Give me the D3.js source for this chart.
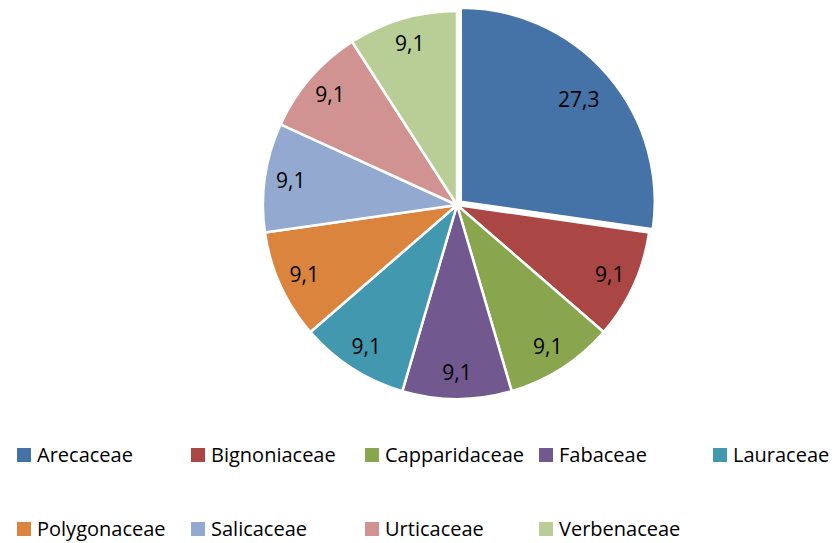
<!DOCTYPE html>
<html>
<head>
<meta charset="utf-8">
<script src="https://cdn.jsdelivr.net/npm/d3@7"></script>
<style>
  body { margin: 0; background: #fff; }
  svg text { font-family: "Open Sans", Carlito, Calibri, sans-serif; fill: #000; }
</style>
</head>
<body>
<div id="vis"></div>
<script>
const width = 834;
const height = 543;

const families = ['Arecaceae', 'Bignoniaceae', 'Capparidaceae', 'Fabaceae', 'Lauraceae',
    'Polygonaceae', 'Salicaceae', 'Urticaceae', 'Verbenaceae'];
const shares = [27.3, 9.1, 9.1, 9.1, 9.1, 9.1, 9.1, 9.1, 9.1];
const labels = ['27,3', '9,1', '9,1', '9,1', '9,1', '9,1', '9,1', '9,1', '9,1'];
const colors = ['#4572A7', '#AA4643', '#89A54E', '#71588F', '#4198AF',
    '#DB843D', '#93A9CF', '#D19392', '#B9CD96'];

const cx = 457, cy = 205, radius = 194;

const svg = d3.select('#vis')
    .append('svg')
    .attr('width', width)
    .attr('height', height);

const pie = d3.pie().value(d => d).sort(null);
const arcs = pie(shares);
const arc = d3.arc().innerRadius(0).outerRadius(radius);

const g = svg.append('g').attr('transform', `translate(${cx},${cy})`);

// first slice is pulled out a little
function offset(d, i) {
    if (i !== 0) return [0, 0];
    const a = (d.startAngle + d.endAngle) / 2;
    return [Math.sin(a) * 5, -Math.cos(a) * 5];
}

g.selectAll('.slice')
    .data(arcs)
    .enter()
    .append('path')
    .attr('class', 'slice')
    .attr('d', arc)
    .attr('transform', (d, i) => `translate(${offset(d, i)})`)
    .attr('fill', (d, i) => colors[i])
    .attr('stroke', '#fff')
    .attr('stroke-width', 2.5)
    .attr('stroke-linejoin', 'round');

// value labels
g.selectAll('.value')
    .data(arcs)
    .enter()
    .append('text')
    .attr('class', 'value')
    .attr('transform', (d, i) => {
        const a = (d.startAngle + d.endAngle) / 2;
        const r = i === 0 ? 156 : 168;
        const [ox, oy] = offset(d, i);
        return `translate(${Math.sin(a) * r + ox},${-Math.cos(a) * r + oy})`;
    })
    .attr('text-anchor', 'middle')
    .attr('dy', '0.35em')
    .style('font-size', '21px')
    .text((d, i) => labels[i]);

// legend, two rows of five / four
const legend = svg.append('g').attr('class', 'legend');
const item = legend.selectAll('.legend-item')
    .data(families)
    .enter()
    .append('g')
    .attr('class', 'legend-item')
    .attr('transform', (d, i) => `translate(${17 + (i % 5) * 174},${i < 5 ? 455 : 529})`);

item.append('rect')
    .attr('x', 0)
    .attr('y', -7)
    .attr('width', 14)
    .attr('height', 14)
    .attr('fill', (d, i) => colors[i]);

item.append('text')
    .attr('x', 20)
    .attr('dy', '0.35em')
    .style('font-size', '20px')
    .text(d => d);
</script>
</body>
</html>
